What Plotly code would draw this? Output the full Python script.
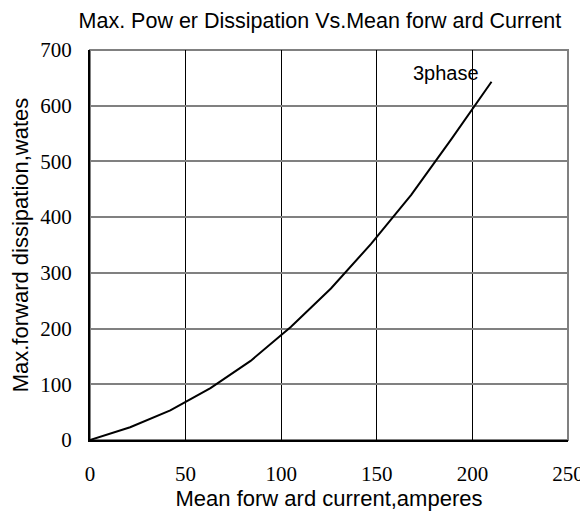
import plotly.graph_objects as go

current = [0, 21, 42, 63, 84, 105, 126, 147, 168, 189, 210]
power = [0, 23, 53, 93, 142, 203, 272, 352, 440, 540, 643]
x_ticks = [0, 50, 100, 150, 200, 250]
y_ticks = [0, 100, 200, 300, 400, 500, 600, 700]

fig = go.Figure()
fig.add_trace(go.Scatter(x=current, y=power, mode="lines",
                         line=dict(color="black", width=2), showlegend=False))
fig.add_annotation(x=186, y=659, text="3phase", showarrow=False,
                   font=dict(family="Liberation Sans", size=20, color="black"))

fig.add_shape(type="rect", xref="paper", yref="paper", x0=0, x1=1, y0=0, y1=1,
              line=dict(color="#808080", width=2), layer="below")

# page body adds an 8px margin, so the figure is sized to fit the window
fig.update_layout(
    width=580, height=503,
    margin=dict(l=82, r=20, t=42, b=71),
    paper_bgcolor="white", plot_bgcolor="white",
    title=dict(text="Max. Pow er Dissipation Vs.Mean forw ard Current",
               xref="paper", x=0.481, xanchor="center", y=0.976, yanchor="middle",
               font=dict(family="Liberation Sans", size=21.5, color="black")),
)
fig.update_xaxes(range=[0, 250], tickvals=x_ticks, showgrid=True,
                 gridcolor="black", gridwidth=1, zeroline=False,
                 showline=True, linecolor="black", linewidth=2,
                 ticks="", ticklabelstandoff=14, automargin=False,
                 tickfont=dict(family="Liberation Serif", size=21, color="black"),
                 title=dict(text="Mean forw ard current,amperes", standoff=5,
                            font=dict(family="Liberation Sans", size=22, color="black")))
fig.update_yaxes(range=[0, 700], tickvals=y_ticks, showgrid=True,
                 gridcolor="#808080", gridwidth=2, zeroline=False,
                 showline=True, linecolor="black", linewidth=2,
                 ticks="", ticklabelstandoff=12, automargin=False,
                 tickfont=dict(family="Liberation Serif", size=21, color="black"),
                 title=dict(text="Max.forward dissipation,wates", standoff=7,
                            font=dict(family="Liberation Sans", size=22, color="black")))

fig.write_html("out.html")
